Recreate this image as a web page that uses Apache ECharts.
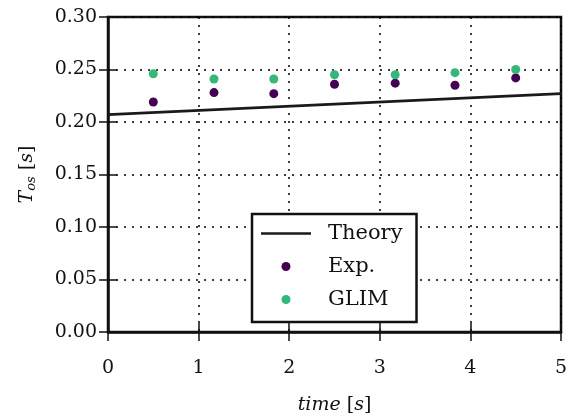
<!DOCTYPE html>
<html>
<head>
<meta charset="utf-8">
<script src="https://cdn.jsdelivr.net/npm/echarts@6/dist/echarts.min.js"></script>
<style>html,body{margin:0;padding:0;background:#fff}#c{width:574px;height:420px}</style>
</head>
<body>
<div id="c"></div>
<script>
const theoryX = [0, 5];
const theoryY = [0.207, 0.227];
const expX = [0.5, 1.17, 1.83, 2.5, 3.17, 3.83, 4.5];
const expY = [0.219, 0.228, 0.227, 0.236, 0.237, 0.235, 0.242];
const glimX = [0.5, 1.17, 1.83, 2.5, 3.17, 3.83, 4.5];
const glimY = [0.246, 0.241, 0.241, 0.245, 0.245, 0.247, 0.250];
const xTicks = [0, 1, 2, 3, 4, 5];
const yTicks = [0.00, 0.05, 0.10, 0.15, 0.20, 0.25, 0.30];

const FONT = 'DejaVu Serif';
const zip = (a, b) => a.map((v, i) => [v, b[i]]);
const chart = echarts.init(document.getElementById('c'), null, {renderer: 'canvas'});
const gridLine = {show: true, lineStyle: {color: '#000', width: 1.5, type: [2, 6]}};
const hiddenAxisCommon = {
  axisLine: {show: false}, axisLabel: {show: false}, splitLine: {show: false},
  axisTick: {show: true, inside: true, length: 9, lineStyle: {color: '#111', width: 1.5}}
};
chart.setOption({
  animation: false,
  backgroundColor: '#fff',
  grid: {left: 108, right: 13, top: 17, bottom: 87, show: true, borderColor: '#111', borderWidth: 2.5, backgroundColor: 'transparent'},
  xAxis: [{
    type: 'value', min: xTicks[0], max: xTicks[xTicks.length - 1], interval: 1,
    axisLine: {show: true, onZero: false, lineStyle: {color: '#111', width: 2.5}},
    axisTick: {show: true, inside: true, length: 9, lineStyle: {color: '#111', width: 1.5}},
    axisLabel: {color: '#111', fontFamily: FONT, fontSize: 19, margin: 27},
    splitLine: gridLine,
    name: '{i|time}{n| [}{i|s}{n|]}',
    nameLocation: 'middle', nameGap: 64,
    nameTextStyle: {rich: {
      i: {fontFamily: FONT, fontStyle: 'italic', fontSize: 19, color: '#111'},
      n: {fontFamily: FONT, fontSize: 19, color: '#111'}
    }}
  }, Object.assign({type: 'value', position: 'top', min: 0, max: 5, interval: 1}, hiddenAxisCommon)],
  yAxis: [{
    type: 'value', min: yTicks[0], max: yTicks[yTicks.length - 1], interval: 0.05,
    axisLine: {show: true, onZero: false, lineStyle: {color: '#111', width: 2.5}},
    axisTick: {show: true, inside: true, length: 9, lineStyle: {color: '#111', width: 1.5}},
    axisLabel: {color: '#111', fontFamily: FONT, fontSize: 19, margin: 11, formatter: v => v.toFixed(2)},
    splitLine: gridLine,
    name: '{i|T}{sub|os}{n| [}{i|s}{n|]}',
    nameLocation: 'middle', nameGap: 70, nameRotate: 90,
    nameTextStyle: {rich: {
      i: {fontFamily: FONT, fontStyle: 'italic', fontSize: 19, color: '#111'},
      sub: {fontFamily: FONT, fontStyle: 'italic', fontSize: 13, color: '#111', padding: [9, 0, 0, 0]},
      n: {fontFamily: FONT, fontSize: 19, color: '#111'}
    }}
  }, Object.assign({type: 'value', position: 'right', min: 0, max: 0.3, interval: 0.05}, hiddenAxisCommon)],
  legend: {
    orient: 'vertical', left: 252, top: 214,
    backgroundColor: '#fff', borderColor: '#111', borderWidth: 2.5,
    padding: [9, 14, 12, 9], itemGap: 12, itemWidth: 50, itemHeight: 9,
    textStyle: {fontFamily: FONT, fontSize: 21, color: '#111', padding: [0, 0, 0, 12]},
    data: [
      {name: 'Theory', icon: 'path://M0,0 L50,0 L50,2.6 L0,2.6 Z'},
      {name: 'Exp.', icon: 'circle'},
      {name: 'GLIM', icon: 'circle'}
    ]
  },
  series: [
    {name: 'Theory', type: 'line', data: zip(theoryX, theoryY), showSymbol: false, symbol: 'none',
     lineStyle: {color: '#1a1a1a', width: 2.6}, itemStyle: {color: '#1a1a1a'}, z: 3},
    {name: 'Exp.', type: 'scatter', data: zip(expX, expY), symbolSize: 9, itemStyle: {color: '#440154', opacity: 1}, z: 4},
    {name: 'GLIM', type: 'scatter', data: zip(glimX, glimY), symbolSize: 9, itemStyle: {color: '#35b779', opacity: 1}, z: 4}
  ]
});
</script>
</body>
</html>
